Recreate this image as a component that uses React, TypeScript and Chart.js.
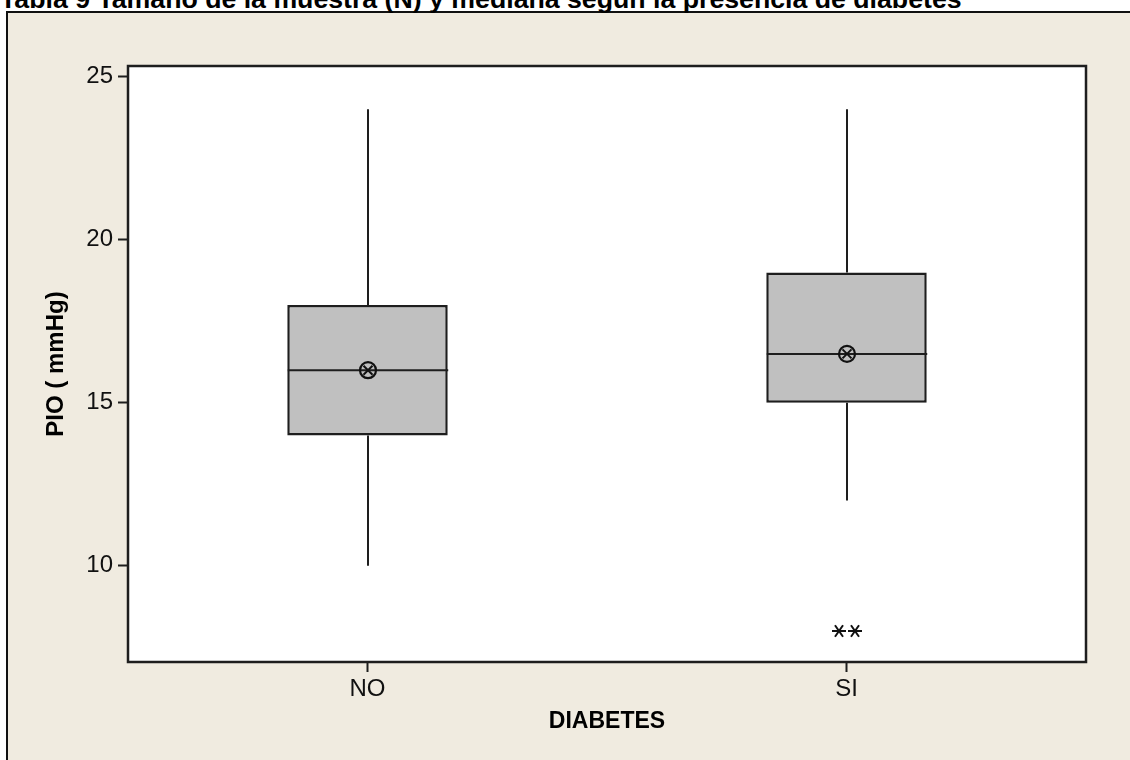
import React, { useEffect, useRef } from 'react';
import { Chart, registerables } from 'chart.js';

Chart.register(...registerables);

// ---- data ----
const categories = ['NO', 'SI'];
const q1Values = [14, 15];
const q3Values = [18, 19];
const medianValues = [16, 16.5];
const meanValues = [16, 16.5];
const whiskerLow = [10, 12];
const whiskerHigh = [24, 24];
const outlierValues: number[][] = [[], [8, 8]];
const yTicks = [10, 15, 20, 25];
const yMin = 7.05;
const yMax = 25.33;

const titleText = 'Tabla 9 Tamaño de la muestra (N) y mediana según la presencia de diabetes';
const yTitle = 'PIO ( mmHg)';
const xTitle = 'DIABETES';

const LINE = '#1e1e1e';

const boxPlugin = {
  id: 'boxExtras',
  beforeDraw(chart: any) {
    const { ctx, chartArea: a } = chart;
    ctx.save();
    ctx.fillStyle = '#ffffff';
    ctx.fillRect(a.left, a.top, a.right - a.left, a.bottom - a.top);
    ctx.restore();
  },
  beforeDatasetsDraw(chart: any) {
    const { ctx } = chart;
    const y = chart.scales.y;
    const meta = chart.getDatasetMeta(0);
    ctx.save();
    ctx.strokeStyle = LINE;
    ctx.lineWidth = 2;
    categories.forEach((_, i) => {
      const el = meta.data[i];
      const x = Math.round(el.x);
      ctx.beginPath();
      ctx.moveTo(x, y.getPixelForValue(q3Values[i]));
      ctx.lineTo(x, y.getPixelForValue(whiskerHigh[i]));
      ctx.moveTo(x, y.getPixelForValue(q1Values[i]));
      ctx.lineTo(x, y.getPixelForValue(whiskerLow[i]));
      ctx.stroke();
    });
    ctx.restore();
  },
  afterDatasetsDraw(chart: any) {
    const { ctx, chartArea: a } = chart;
    const y = chart.scales.y;
    const meta = chart.getDatasetMeta(0);
    ctx.save();
    categories.forEach((_, i) => {
      const el = meta.data[i];
      const x = Math.round(el.x);
      const hw = el.width / 2;
      // median
      ctx.strokeStyle = LINE;
      ctx.lineWidth = 2;
      const my = y.getPixelForValue(medianValues[i]);
      ctx.beginPath();
      ctx.moveTo(x - hw, my);
      ctx.lineTo(x + hw, my);
      ctx.stroke();
      // mean symbol (circle with X)
      const mny = y.getPixelForValue(meanValues[i]);
      const r = 8;
      ctx.strokeStyle = '#111';
      ctx.lineWidth = 2.2;
      ctx.beginPath();
      ctx.arc(x, mny, r, 0, Math.PI * 2);
      ctx.stroke();
      const d = 4.5;
      ctx.lineWidth = 2;
      ctx.beginPath();
      ctx.moveTo(x - d, mny - d);
      ctx.lineTo(x + d, mny + d);
      ctx.moveTo(x + d, mny - d);
      ctx.lineTo(x - d, mny + d);
      ctx.stroke();
      // outliers (asterisks)
      const outs = outlierValues[i];
      ctx.lineWidth = 2;
      outs.forEach((v, j) => {
        const ox = x + (j - (outs.length - 1) / 2) * 16;
        const oy = y.getPixelForValue(v);
        const R = 7;
        ctx.beginPath();
        ctx.moveTo(ox - R, oy);
        ctx.lineTo(ox + R, oy);
        const ang = (55 * Math.PI) / 180;
        ctx.moveTo(ox - R * Math.cos(ang), oy - R * Math.sin(ang));
        ctx.lineTo(ox + R * Math.cos(ang), oy + R * Math.sin(ang));
        ctx.moveTo(ox + R * Math.cos(ang), oy - R * Math.sin(ang));
        ctx.lineTo(ox - R * Math.cos(ang), oy + R * Math.sin(ang));
        ctx.stroke();
      });
    });
    // plot frame
    ctx.strokeStyle = LINE;
    ctx.lineWidth = 2.5;
    ctx.strokeRect(a.left, a.top, a.right - a.left, a.bottom - a.top);
    ctx.restore();
  },
};

export default function App() {
  const ref = useRef<HTMLCanvasElement>(null);

  useEffect(() => {
    const chart = new Chart(ref.current as HTMLCanvasElement, {
      type: 'bar',
      data: {
        labels: categories,
        datasets: [
          {
            data: categories.map((_, i) => [q1Values[i], q3Values[i]]) as any,
            backgroundColor: '#C0C0C0',
            borderColor: LINE,
            borderWidth: 2.5,
            borderSkipped: false,
            barPercentage: 0.335,
            categoryPercentage: 1,
          },
        ],
      },
      options: {
        responsive: false,
        animation: false,
        devicePixelRatio: 1,
        layout: { padding: { left: 0, top: 66, right: 44, bottom: 0 } },
        plugins: {
          legend: { display: false },
          tooltip: { enabled: false },
          title: { display: false },
        },
        scales: {
          x: {
            type: 'category',
            offset: true,
            grid: {
              offset: false,
              drawOnChartArea: false,
              drawTicks: true,
              tickLength: 10,
              tickWidth: 2,
              tickColor: LINE,
              color: LINE,
            },
            border: { display: false },
            ticks: {
              color: '#111',
              padding: 3,
              font: { family: '"Liberation Sans", Arial, sans-serif', size: 24 },
            },
            title: {
              display: true,
              text: xTitle,
              color: '#000',
              padding: { top: 0, bottom: 25 },
              font: { family: '"Liberation Sans", Arial, sans-serif', size: 23, weight: 'bold' },
            },
            afterFit(scale: any) {
              scale.height = 98;
            },
          },
          y: {
            type: 'linear',
            min: yMin,
            max: yMax,
            afterBuildTicks(scale: any) {
              scale.ticks = yTicks.map((v) => ({ value: v }));
            },
            grid: {
              drawOnChartArea: false,
              drawTicks: true,
              tickLength: 10,
              tickWidth: 2,
              tickColor: LINE,
              color: LINE,
            },
            border: { display: false },
            ticks: {
              color: '#111',
              padding: 5,
              font: { family: '"Liberation Sans", Arial, sans-serif', size: 24 },
            },
            title: {
              display: true,
              text: yTitle,
              color: '#000',
              padding: { top: 42, bottom: 0 },
              font: { family: '"Liberation Sans", Arial, sans-serif', size: 24, weight: 'bold' },
            },
            afterFit(scale: any) {
              scale.width = 128;
            },
          },
        },
      },
      plugins: [boxPlugin],
    } as any);
    return () => chart.destroy();
  }, []);

  return (
    <div
      style={{
        position: 'absolute',
        left: 0,
        top: 0,
        width: 1130,
        height: 760,
        overflow: 'hidden',
        background: '#ffffff',
      }}
    >
      <div
        style={{
          position: 'absolute',
          left: 6,
          top: 11,
          right: 0,
          bottom: 0,
          background: '#F0EBE0',
          borderTop: '2px solid #111',
          borderLeft: '2px solid #111',
        }}
      />
      <div
        style={{
          position: 'absolute',
          left: 0,
          top: -14,
          fontFamily: '"Liberation Sans", Arial, sans-serif',
          fontWeight: 'bold',
          fontSize: 26.7,
          lineHeight: '26.7px',
          whiteSpace: 'nowrap',
          color: '#000',
        }}
      >
        {titleText}
      </div>
      <canvas
        ref={ref}
        width={1130}
        height={760}
        style={{ position: 'absolute', left: 0, top: 0, width: 1130, height: 760 }}
      />
    </div>
  );
}
